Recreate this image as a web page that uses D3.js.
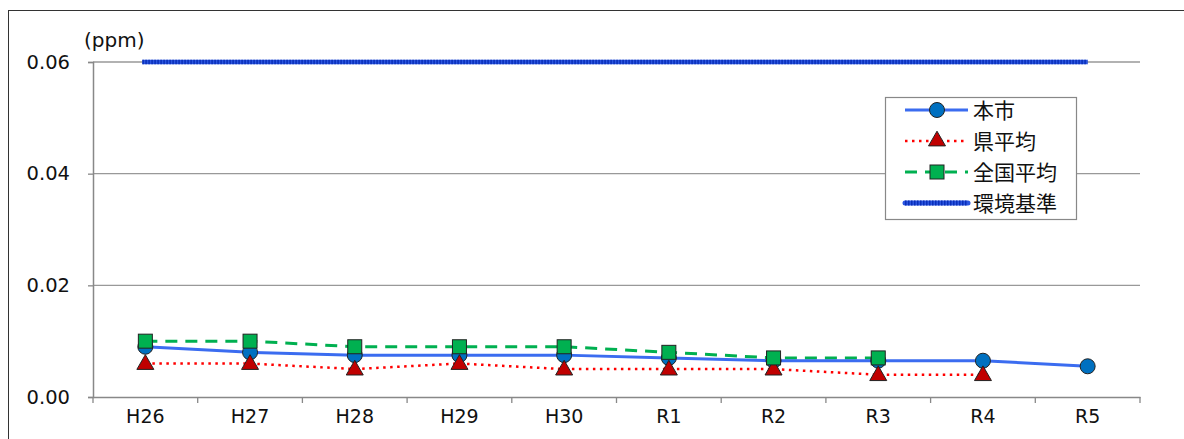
<!DOCTYPE html>
<html><head><meta charset="utf-8">
<script src="https://cdn.jsdelivr.net/npm/d3@7/dist/d3.min.js"></script>
<style>
body{margin:0;background:#fff;}
text{font-family:"Noto Sans CJK JP","DejaVu Sans",sans-serif;fill:#111;}
</style></head><body>
<svg id="c" width="1184" height="439"></svg>
<script>
const categories = ["H26","H27","H28","H29","H30","R1","R2","R3","R4","R5"];
const cityValues = [0.009,0.008,0.0075,0.0075,0.0075,0.007,0.0065,0.0065,0.0065,0.0055];
const prefValues = [0.006,0.006,0.005,0.006,0.005,0.005,0.005,0.004,0.004,null];
const nationValues = [0.010,0.010,0.009,0.009,0.009,0.008,0.007,0.007,null,null];
const standardValues = [0.06,0.06,0.06,0.06,0.06,0.06,0.06,0.06,0.06,0.06];
const yTicks = [0,0.02,0.04,0.06];
const seriesNames = ["本市","県平均","全国平均","環境基準"];

const latin = "'DejaVu Sans',Verdana,sans-serif";
const svg = d3.select("#c");
svg.append("rect").attr("x",8.5).attr("y",10.5).attr("width",1200).attr("height",500)
  .attr("fill","#fff").attr("stroke","#333").attr("stroke-width",1);

const x = d3.scaleBand().domain(categories).range([93,1140]);
const y = d3.scaleLinear().domain([0,0.06]).range([397,62]);
const cx = d => x(d)+x.bandwidth()/2;

// gridlines
svg.append("g").selectAll("line").data(yTicks.slice(1)).join("line")
  .attr("x1",93).attr("x2",1140).attr("y1",d=>y(d)).attr("y2",d=>y(d))
  .attr("stroke","#999").attr("stroke-width",1.3);

// y axis
const ya = svg.append("g").attr("transform","translate(93,0)")
  .call(d3.axisLeft(y).tickValues(yTicks).tickFormat(d3.format(".2f")).tickSize(5).tickPadding(18));
ya.attr("font-size",null).attr("font-family",null);
ya.select(".domain").attr("stroke","#888").attr("stroke-width",1.5);
ya.selectAll(".tick line").attr("stroke","#888").attr("stroke-width",1.3);
ya.selectAll("text").attr("fill","#111").style("font-size","19.5px").style("font-family",latin);

// x axis
const xa = svg.append("g").attr("transform","translate(0,397)")
  .call(d3.axisBottom(x).tickSize(0).tickPadding(13));
xa.attr("font-size",null).attr("font-family",null);
xa.select(".domain").attr("stroke","#888").attr("stroke-width",1.5);
xa.selectAll("text").attr("fill","#111").style("font-size","19px").style("font-family",latin);
svg.append("g").selectAll("line").data(categories.concat(["_end"])).join("line")
  .attr("x1",(d,i)=>93+i*x.bandwidth()).attr("x2",(d,i)=>93+i*x.bandwidth())
  .attr("y1",397).attr("y2",403).attr("stroke","#888").attr("stroke-width",1.3);

svg.append("text").attr("x",84).attr("y",47).text("(ppm)").style("font-size","20px").style("font-family",latin);

const line = d3.line().defined(d=>d.v!=null).x(d=>cx(d.c)).y(d=>y(d.v));
const pts = vals => categories.map((c,i)=>({c,v:vals[i]}));

// standard
const stdLine = d3.line().x((d,i)=>cx(d.c)+(i===0?-3:0)).y(d=>y(d.v));
svg.append("path").datum(pts(standardValues)).attr("d",stdLine).attr("fill","none")
  .attr("stroke","#2a55e0").attr("stroke-width",4.5);
svg.append("path").datum(pts(standardValues)).attr("d",stdLine).attr("fill","none")
  .attr("stroke","#0a2fb8").attr("stroke-width",4.5).attr("stroke-dasharray","1.5,1.5");

// lines
svg.append("path").datum(pts(nationValues)).attr("d",line).attr("fill","none")
  .attr("stroke","#00b050").attr("stroke-width",3).attr("stroke-dasharray","12,8");
svg.append("path").datum(pts(prefValues)).attr("d",line).attr("fill","none")
  .attr("stroke","#ff0000").attr("stroke-width",2.5).attr("stroke-dasharray","2.5,4.5");
svg.append("path").datum(pts(cityValues)).attr("d",line).attr("fill","none")
  .attr("stroke","#3b6cf0").attr("stroke-width",3);

const tri = d3.symbol().type(d3.symbolTriangle).size(125);
function circles(g,data){g.selectAll("circle").data(data).join("circle").attr("cx",d=>cx(d.c)).attr("cy",d=>y(d.v)).attr("r",7.5).attr("fill","#0070c0").attr("stroke","#222").attr("stroke-width",1);}
function triangles(g,data){g.selectAll("path").data(data).join("path").attr("d",tri).attr("transform",d=>`translate(${cx(d.c)},${y(d.v)+1})`).attr("fill","#c00000").attr("stroke","#222").attr("stroke-width",1);}
function squares(g,data){g.selectAll("rect").data(data).join("rect").attr("x",d=>cx(d.c)-7).attr("y",d=>y(d.v)-7).attr("width",14).attr("height",14).attr("fill","#00b050").attr("stroke","#222").attr("stroke-width",1);}

circles(svg.append("g"), pts(cityValues));
triangles(svg.append("g"), pts(prefValues).filter(d=>d.v!=null));
squares(svg.append("g"), pts(nationValues).filter(d=>d.v!=null));

// legend
const lg = svg.append("g");
lg.append("rect").attr("x",885.5).attr("y",97.5).attr("width",191).attr("height",122).attr("fill","#fff").attr("stroke","#888").attr("stroke-width",1.2);
const ly = [110,141,172,203];
const lx1=905, lx2=968, lm=937;
lg.append("line").attr("x1",lx1).attr("x2",lx2).attr("y1",ly[0]).attr("y2",ly[0]).attr("stroke","#3b6cf0").attr("stroke-width",3);
lg.append("circle").attr("cx",lm).attr("cy",ly[0]).attr("r",7.5).attr("fill","#0070c0").attr("stroke","#222");
lg.append("line").attr("x1",lx1).attr("x2",lx2).attr("y1",ly[1]).attr("y2",ly[1]).attr("stroke","#ff0000").attr("stroke-width",2.5).attr("stroke-dasharray","2.5,4.5");
lg.append("path").attr("d",tri).attr("transform",`translate(${lm},${ly[1]})`).attr("fill","#c00000").attr("stroke","#222");
lg.append("line").attr("x1",lx1).attr("x2",lx2).attr("y1",ly[2]).attr("y2",ly[2]).attr("stroke","#00b050").attr("stroke-width",3).attr("stroke-dasharray","12,8");
lg.append("rect").attr("x",lm-7).attr("y",ly[2]-7).attr("width",14).attr("height",14).attr("fill","#00b050").attr("stroke","#222");
lg.append("line").attr("x1",lx1).attr("x2",lx2).attr("y1",ly[3]).attr("y2",ly[3]).attr("stroke","#2a55e0").attr("stroke-width",5).attr("stroke-linecap","round");
lg.append("line").attr("x1",lx1).attr("x2",lx2).attr("y1",ly[3]).attr("y2",ly[3]).attr("stroke","#0a2fb8").attr("stroke-width",5).attr("stroke-dasharray","1.5,1.5");
lg.selectAll("text").data(seriesNames).join("text").attr("x",973).attr("y",(d,i)=>ly[i]).attr("dy","0.36em").text(d=>d).style("font-size","21px");
</script></body></html>
